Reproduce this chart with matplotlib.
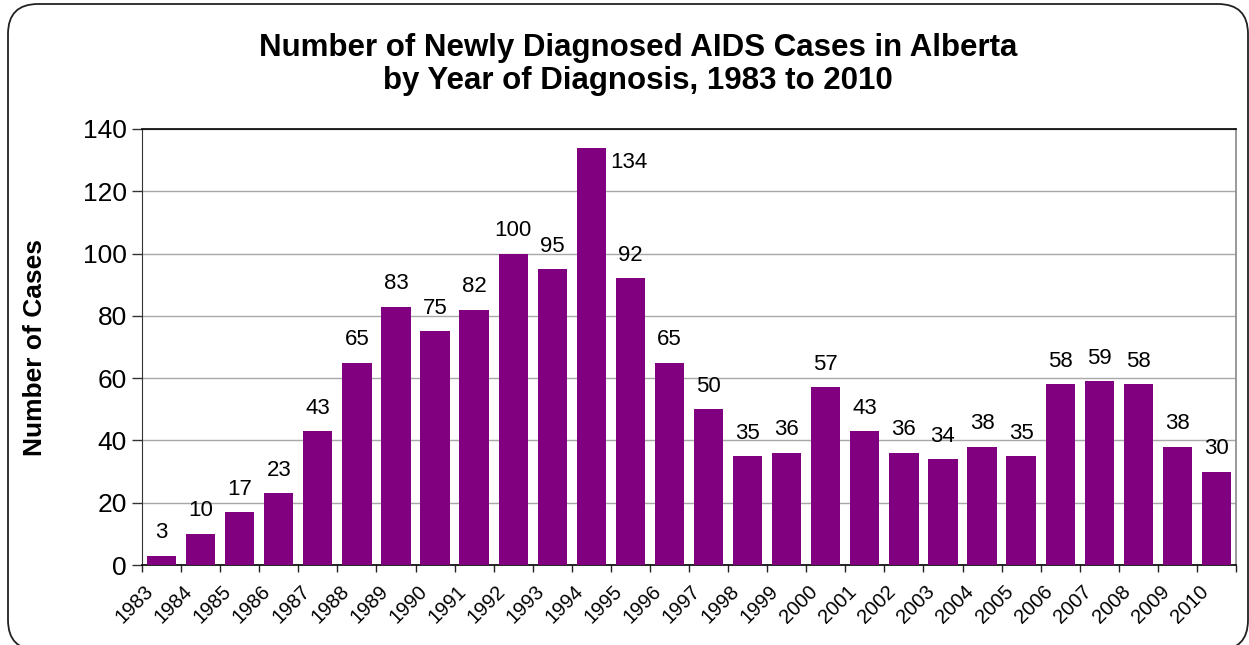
import matplotlib
matplotlib.use("Agg")
import matplotlib.pyplot as plt
from matplotlib.patches import FancyBboxPatch
from matplotlib.transforms import ScaledTranslation
import numpy as np

# data
years = [str(y) for y in range(1983, 2011)]
cases = [3, 10, 17, 23, 43, 65, 83, 75, 82, 100, 95, 134, 92, 65,
         50, 35, 36, 57, 43, 36, 34, 38, 35, 58, 59, 58, 38, 30]

plt.rcParams["font.family"] = ["Liberation Sans", "DejaVu Sans"]

fig = plt.figure(figsize=(12.49, 6.45), dpi=100)
fig.patch.set_facecolor("white")

# rounded frame round the whole picture
frame = FancyBboxPatch(
    (0.08, -0.05), 12.40, 6.41 + 0.05,
    boxstyle="round,pad=0,rounding_size=0.3",
    transform=fig.dpi_scale_trans,
    facecolor="none", edgecolor="#222222", linewidth=1.3,
)
fig.patches.append(frame)

ax = fig.add_axes([0.1137, 0.124, 0.8759, 0.676])
x = np.arange(len(years))
bars = ax.bar(x, cases, width=0.75, color="#800080", zorder=3)

ax.set_xlim(-0.5, len(years) - 0.5)
ax.set_ylim(0, 140)
ax.set_yticks(np.arange(0, 141, 20))
ax.tick_params(axis="y", labelsize=19, length=7, width=1, color="#333333", pad=4)
ax.yaxis.grid(True, color="#a8a8a8", linewidth=1, zorder=0)

# year labels on the categories, tick marks on the boundaries
ax.set_xticks(x, years)
ax.tick_params(axis="x", which="major", length=0, labelsize=14.5, pad=17)
ax.set_xticks(np.arange(-0.5, len(years)), minor=True)
ax.tick_params(axis="x", which="minor", length=5, width=1, color="#222222")
shift = ScaledTranslation(-0.11, 0, fig.dpi_scale_trans)
for lab in ax.get_xticklabels():
    lab.set_rotation(45)
    lab.set_ha("right")
    lab.set_va("center")
    lab.set_rotation_mode("anchor")
    lab.set_transform(lab.get_transform() + shift)

for side in ["top", "bottom"]:
    ax.spines[side].set_color("black")
    ax.spines[side].set_linewidth(1.2)
ax.spines["left"].set_color("#333333")
ax.spines["right"].set_color("#888888")
ax.spines["right"].set_linewidth(1.2)

# value labels
peak = int(np.argmax(cases))
for i, v in enumerate(cases):
    if i == peak:
        ax.annotate(str(v), (i + 0.375, v), xytext=(3, -3),
                    textcoords="offset points", ha="left", va="top", fontsize=16)
    else:
        ax.annotate(str(v), (i, v), xytext=(0, 9),
                    textcoords="offset points", ha="center", va="bottom", fontsize=16)

ax.set_ylabel("Number of Cases", fontsize=19, fontweight="bold")
ax.yaxis.set_label_coords(-0.087, 0.5)

fig.text(0.511, 0.90, "Number of Newly Diagnosed AIDS Cases in Alberta\nby Year of Diagnosis, 1983 to 2010",
         ha="center", va="center", fontsize=22.5, fontweight="bold", linespacing=1.15)

fig.savefig("out.png", dpi=100)
